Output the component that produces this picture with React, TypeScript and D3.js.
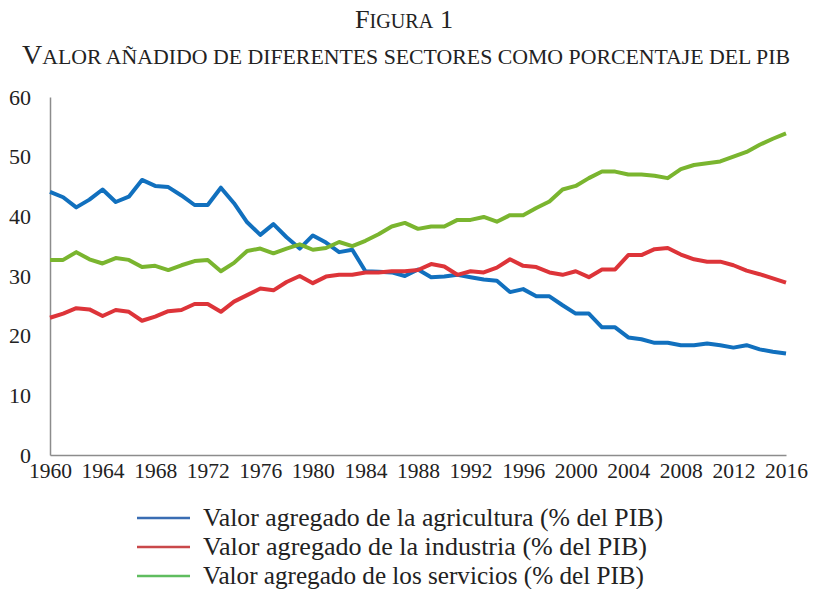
import React, { useRef, useEffect } from 'react';
import * as d3 from 'd3';

// years 1960..2016
const years = d3.range(1960, 2017);

const agricultura = [
  44.1, 43.2, 41.5, 42.8, 44.5, 42.4, 43.3, 46.1, 45.1, 44.9,
  43.5, 41.9, 41.9, 44.8, 42.2, 39.0, 36.9, 38.7, 36.5, 34.6,
  36.8, 35.6, 34.0, 34.4, 30.8, 30.7, 30.6, 30.0, 31.1, 29.8,
  29.9, 30.2, 29.8, 29.4, 29.2, 27.3, 27.8, 26.6, 26.6, 25.1,
  23.7, 23.7, 21.4, 21.4, 19.7, 19.4, 18.8, 18.8, 18.4, 18.4,
  18.7, 18.4, 18.0, 18.4, 17.7, 17.3, 17.0
];

const industria = [
  23.0, 23.7, 24.6, 24.4, 23.3, 24.3, 24.0, 22.5, 23.2, 24.1,
  24.3, 25.3, 25.3, 24.0, 25.7, 26.8, 27.9, 27.6, 29.0, 30.0,
  28.8, 29.9, 30.2, 30.2, 30.6, 30.6, 30.8, 30.8, 31.0, 32.0,
  31.6, 30.2, 30.8, 30.6, 31.4, 32.8, 31.7, 31.5, 30.6, 30.2,
  30.8, 29.8, 31.1, 31.1, 33.5, 33.5, 34.5, 34.7, 33.6, 32.8,
  32.4, 32.4, 31.8, 30.9, 30.3, 29.6, 28.9
];

const servicios = [
  32.7, 32.7, 34.0, 32.8, 32.1, 33.0, 32.7, 31.5, 31.7, 31.0,
  31.8, 32.5, 32.7, 30.8, 32.2, 34.2, 34.6, 33.8, 34.6, 35.3,
  34.4, 34.7, 35.7, 35.0, 35.9, 37.0, 38.3, 38.9, 37.9, 38.3,
  38.3, 39.4, 39.4, 39.9, 39.1, 40.2, 40.2, 41.4, 42.5, 44.5,
  45.1, 46.4, 47.5, 47.5, 47.0, 47.0, 46.8, 46.4, 47.9, 48.6,
  48.9, 49.2, 50.0, 50.8, 52.0, 53.0, 53.9
];

const xTicks = d3.range(1960, 2017, 4);
const yTicks = [0, 10, 20, 30, 40, 50, 60];

const series = [
  { name: 'Valor agregado de la agricultura (% del PIB)', values: agricultura, color: '#1170be', legend: '#3a6db3', width: 460 },
  { name: 'Valor agregado de la industria (% del PIB)', values: industria, color: '#dd3439', legend: '#c9484a', width: 444 },
  { name: 'Valor agregado de los servicios (% del PIB)', values: servicios, color: '#7ab52f', legend: '#5fbd5f', width: 441 }
];

const W = 813;
const H = 589;
const FONT = '"Liberation Serif", "DejaVu Serif", serif';

const Chart = () => {
  const ref = useRef<SVGSVGElement>(null);

  useEffect(() => {
    const svg = d3.select(ref.current);
    svg.selectAll('*').remove();

    const left = 50, right = 786, top = 97, bottom = 455;

    const x = d3.scaleLinear().domain([1960, 2016]).range([left, right]);
    const y = d3.scaleLinear().domain([0, 60]).range([bottom, top]);

    // Title (small caps by hand)
    const t1 = svg.append('text')
      .attr('x', 404).attr('y', 28)
      .attr('text-anchor', 'middle')
      .attr('textLength', 98)
      .attr('lengthAdjust', 'spacingAndGlyphs')
      .style('font-family', FONT).style('fill', '#222');
    t1.append('tspan').style('font-size', '26px').text('F');
    t1.append('tspan').style('font-size', '20px').text('IGURA');
    t1.append('tspan').style('font-size', '26px').text(' 1');

    const t2 = svg.append('text')
      .attr('x', 406).attr('y', 64)
      .attr('text-anchor', 'middle')
      .attr('textLength', 768)
      .attr('lengthAdjust', 'spacingAndGlyphs')
      .style('font-family', FONT).style('fill', '#222');
    t2.append('tspan').style('font-size', '27px').text('V');
    t2.append('tspan').style('font-size', '21px')
      .text('ALOR AÑADIDO DE DIFERENTES SECTORES COMO PORCENTAJE DEL PIB');

    // Y axis
    const yAxis = svg.append('g')
      .attr('transform', `translate(${left},0)`)
      .call(d3.axisLeft(y).tickValues(yTicks).tickSize(0).tickSizeOuter(0).tickPadding(19));
    yAxis.select('.domain').attr('stroke', '#8c8c8c').attr('stroke-width', 1.5);
    yAxis.selectAll('text')
      .style('font-family', FONT).style('font-size', '22px').style('fill', '#222');

    // X axis
    const xAxis = svg.append('g')
      .attr('transform', `translate(0,${bottom})`)
      .call(d3.axisBottom(x).tickValues(xTicks).tickFormat(d3.format('d')).tickSize(0).tickSizeOuter(0).tickPadding(8));
    xAxis.select('.domain').attr('stroke', '#8c8c8c').attr('stroke-width', 1.5);
    xAxis.selectAll('text')
      .style('font-family', FONT).style('font-size', '21.5px').style('fill', '#222');

    // Lines
    const line = d3.line<number>()
      .x((d, i) => x(years[i]))
      .y(d => y(d));

    series.forEach(s => {
      svg.append('path')
        .datum(s.values)
        .attr('d', line)
        .attr('fill', 'none')
        .attr('stroke', s.color)
        .attr('stroke-width', 4)
        .attr('stroke-linejoin', 'round');
    });

    // Legend
    const legend = svg.append('g');
    series.forEach((s, i) => {
      const ly = 518 + i * 29;
      legend.append('line')
        .attr('x1', 137).attr('x2', 190)
        .attr('y1', ly).attr('y2', ly)
        .attr('stroke', s.legend).attr('stroke-width', 2.5);
      legend.append('text')
        .attr('x', 203).attr('y', ly + 8)
        .attr('textLength', s.width)
        .attr('lengthAdjust', 'spacingAndGlyphs')
        .style('font-family', FONT).style('font-size', '25px').style('fill', '#222')
        .text(s.name);
    });
  }, []);

  return <svg ref={ref} width={W} height={H} style={{ position: 'absolute', left: 0, top: 0, background: '#fff' }} />;
};

export default function App() {
  return <Chart />;
}
